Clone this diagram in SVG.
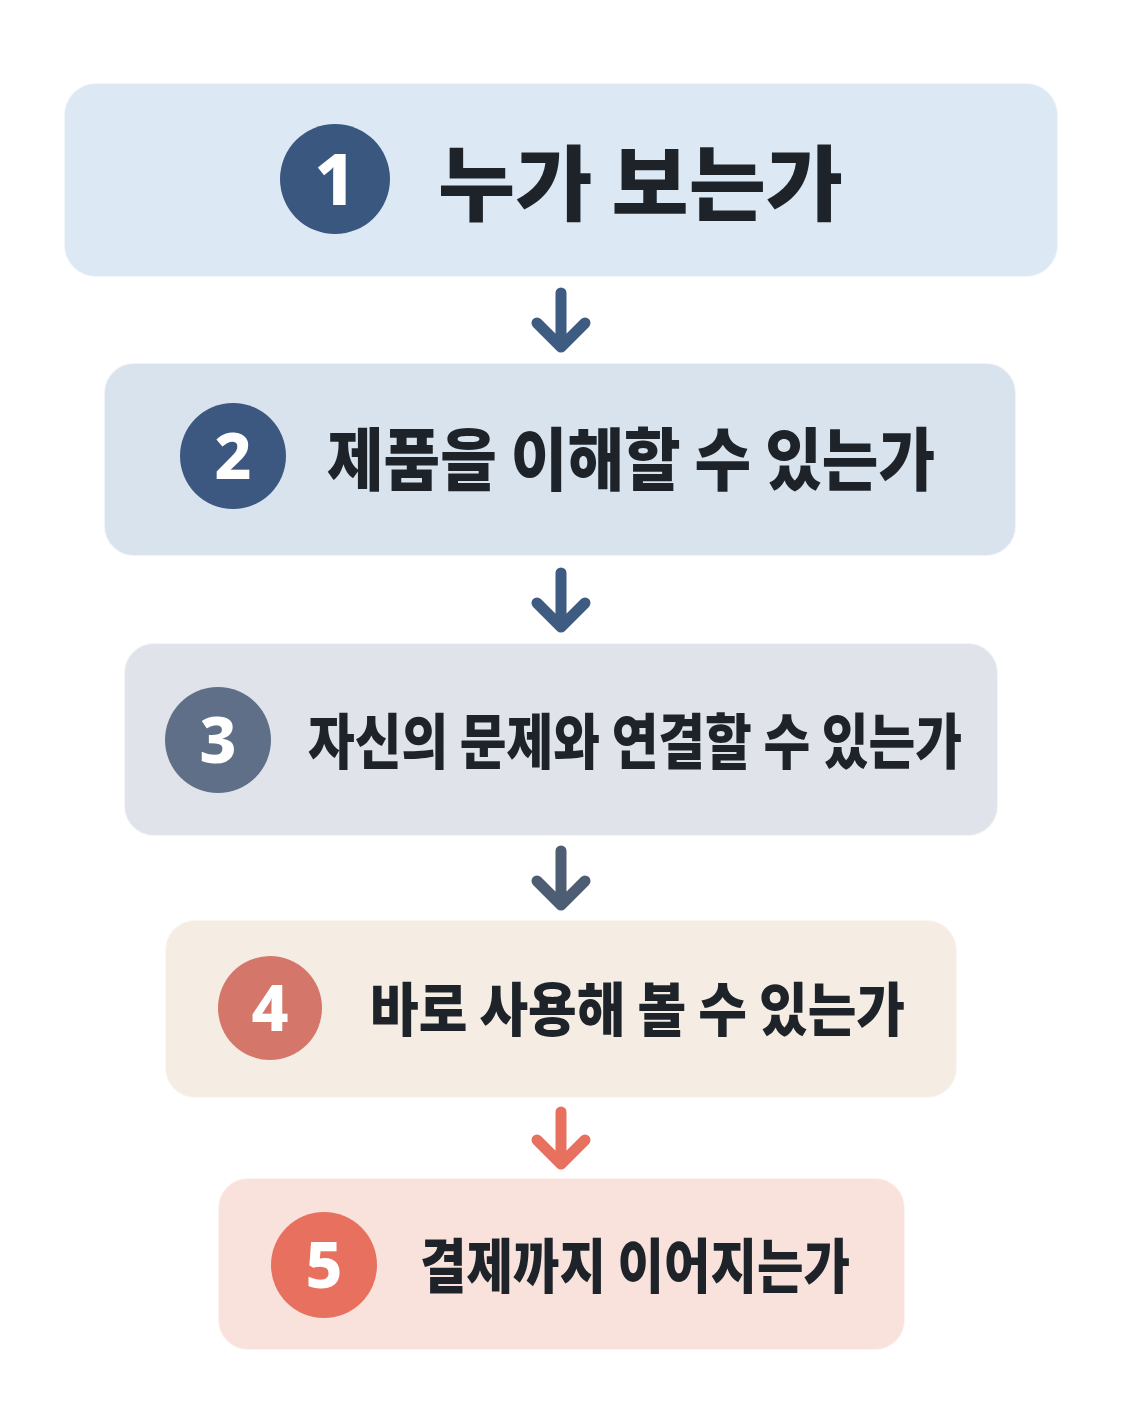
<svg xmlns="http://www.w3.org/2000/svg" width="1122" height="1402" viewBox="0 0 1122 1402">
<style>
.box{stroke:#ffffff;stroke-opacity:0.6;stroke-width:2}
.lbl{font-family:"Noto Sans CJK KR","Noto Sans",sans-serif;font-weight:900;fill:#1d2329}
.num{font-family:"Noto Sans","Open Sans",sans-serif;font-weight:800;fill:#ffffff;text-anchor:middle}
.arr{fill:none;stroke-width:11;stroke-linecap:round;stroke-linejoin:round}
</style>
<rect width="1122" height="1402" fill="#ffffff"/>
<g id="node1">
<rect class="box" x="64" y="83" width="994" height="194" rx="32" fill="#dce8f4"/>
<circle cx="335" cy="179" r="55" fill="#3a5780"/>
<text class="num" x="335" y="205" font-size="72">1</text>
<text class="lbl" x="438" y="214" font-size="82" textLength="405" lengthAdjust="spacingAndGlyphs">누가 보는가</text>
</g>
<g id="node2">
<rect class="box" x="104" y="363" width="912" height="193" rx="30" fill="#d9e3ee"/>
<circle cx="233" cy="456" r="53" fill="#3c5780"/>
<text class="num" x="233" y="479" font-size="64">2</text>
<text class="lbl" x="327" y="485" font-size="68" textLength="608" lengthAdjust="spacingAndGlyphs">제품을 이해할 수 있는가</text>
</g>
<g id="node3">
<rect class="box" x="124" y="643" width="874" height="193" rx="30" fill="#e0e4ea"/>
<circle cx="218" cy="740" r="53" fill="#5f6f88"/>
<text class="num" x="218" y="763" font-size="64">3</text>
<text class="lbl" x="308" y="764" font-size="60" textLength="654" lengthAdjust="spacingAndGlyphs">자신의 문제와 연결할 수 있는가</text>
</g>
<g id="node4">
<rect class="box" x="165" y="920" width="792" height="178" rx="30" fill="#f5ede4"/>
<circle cx="270" cy="1008" r="52" fill="#d4766a"/>
<text class="num" x="270" y="1031" font-size="64">4</text>
<text class="lbl" x="370" y="1031" font-size="58" textLength="535" lengthAdjust="spacingAndGlyphs">바로 사용해 볼 수 있는가</text>
</g>
<g id="node5">
<rect class="box" x="218" y="1178" width="687" height="172" rx="30" fill="#f9e1dc"/>
<circle cx="324" cy="1265" r="53" fill="#e8705e"/>
<text class="num" x="324" y="1288" font-size="64">5</text>
<text class="lbl" x="420" y="1288" font-size="59" textLength="430" lengthAdjust="spacingAndGlyphs">결제까지 이어지는가</text>
</g>
<g id="connectors">
<g stroke="#3e5b82" class="arr">
<path d="M561 293 V347 M537 323 L561 347 L585 323"/>
</g>
<g stroke="#3e5b82" class="arr">
<path d="M561 573 V627 M537 603 L561 627 L585 603"/>
</g>
<g stroke="#4d5d73" class="arr">
<path d="M561 851 V905 M537 881 L561 905 L585 881"/>
</g>
<g stroke="#e8705e" class="arr">
<path d="M561 1112 V1164 M537 1140 L561 1164 L585 1140"/>
</g>
</g>
</svg>
